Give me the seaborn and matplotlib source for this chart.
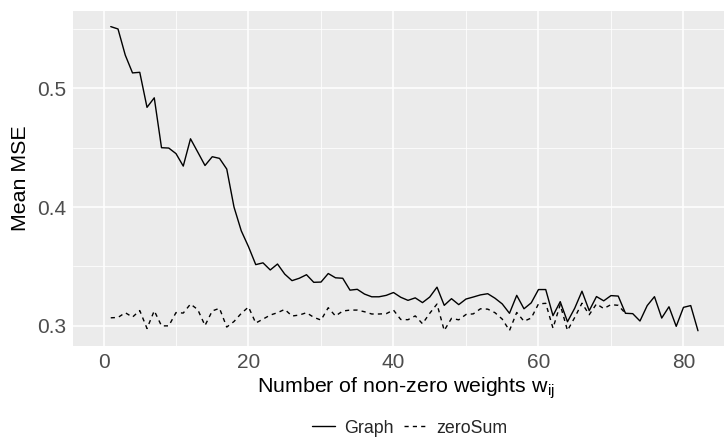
import pandas as pd
import numpy as np
import matplotlib
matplotlib.use('Agg')
import matplotlib.pyplot as plt
import seaborn as sns

# Configuration (look of ggplot theme_gray)
sns.set_theme(style="darkgrid", rc={
    'axes.facecolor': '#EBEBEB',
    'grid.color': 'white',
    'axes.edgecolor': '#EBEBEB',
})
plt.rcParams['font.family'] = ['Liberation Sans', 'DejaVu Sans']
plt.rcParams['mathtext.fontset'] = 'custom'
plt.rcParams['mathtext.rm'] = 'Liberation Sans'
plt.rcParams['mathtext.it'] = 'Liberation Sans'

# Data
n_weights = list(range(1, 83))

graph_mse = [
    0.552, 0.550, 0.528, 0.513, 0.5135, 0.484, 0.492, 0.450, 0.4497, 0.445,
    0.4345, 0.4575, 0.4463, 0.435, 0.4424, 0.441, 0.432, 0.400, 0.380, 0.3666,
    0.3515, 0.353, 0.347, 0.352, 0.3435, 0.338, 0.340, 0.343, 0.3366, 0.3368,
    0.344, 0.3404, 0.340, 0.330, 0.3307, 0.3267, 0.3244, 0.3244, 0.3256, 0.328,
    0.324, 0.3214, 0.3235, 0.3195, 0.3242, 0.3325, 0.3172, 0.3228, 0.3178, 0.3225,
    0.3242, 0.326, 0.327, 0.3232, 0.3184, 0.3105, 0.3256, 0.3143, 0.3193, 0.3305,
    0.3305, 0.3085, 0.3203, 0.3034, 0.3148, 0.3291, 0.3127, 0.3246, 0.321, 0.3254,
    0.325, 0.3105, 0.3102, 0.304, 0.317, 0.3245, 0.3065, 0.316, 0.2995, 0.3155,
    0.317, 0.2958,
]

zerosum_mse = [
    0.3067, 0.307, 0.311, 0.3073, 0.3128, 0.2977, 0.3126, 0.2999, 0.2999, 0.3111,
    0.3107, 0.3183, 0.3136, 0.3002, 0.3125, 0.3147, 0.2989, 0.3036, 0.3104, 0.3158,
    0.3023, 0.3056, 0.309, 0.311, 0.3138, 0.3082, 0.309, 0.311, 0.3071, 0.3048,
    0.3152, 0.3082, 0.3124, 0.3132, 0.3132, 0.3118, 0.3099, 0.3099, 0.3102, 0.3132,
    0.3053, 0.3051, 0.3083, 0.3017, 0.3105, 0.3183, 0.296, 0.3062, 0.305, 0.3095,
    0.31, 0.3143, 0.314, 0.311, 0.3056, 0.296, 0.3112, 0.3038, 0.3065, 0.3184,
    0.3189, 0.298, 0.3178, 0.296, 0.307, 0.319, 0.3093, 0.3184, 0.3145, 0.3178,
    0.3172, 0.3104,
]

df = pd.concat([
    pd.DataFrame({'weights': n_weights, 'mse': graph_mse, 'method': 'Graph'}),
    pd.DataFrame({'weights': n_weights[:len(zerosum_mse)], 'mse': zerosum_mse,
                  'method': 'zeroSum'}),
])

fig = plt.figure(figsize=(7.24, 4.44), dpi=100)
ax = fig.add_axes([72.7 / 724, 98.3 / 444, 666.3 / 724, 335 / 444])

sns.lineplot(data=df, x='weights', y='mse', style='method', color='black',
             dashes={'Graph': '', 'zeroSum': (3, 3)}, linewidth=1.0, ax=ax)

ax.set_xlim(-4.25, 87.66)
ax.set_ylim(0.2832, 0.5654)
ax.set_xticks([0, 20, 40, 60, 80])
ax.set_xticks([10, 30, 50, 70], minor=True)
ax.set_yticks([0.3, 0.4, 0.5])
ax.set_yticks([0.35, 0.45, 0.55], minor=True)
ax.set_yticklabels(['0.3', '0.4', '0.5'])
ax.grid(which='major', color='white', linewidth=1.1)
ax.grid(which='minor', color='white', linewidth=0.55)
ax.tick_params(which='major', length=3.5, width=0.8, color='#333333',
               labelsize=15, labelcolor='#4D4D4D', pad=1.5)
ax.tick_params(which='minor', length=0)
for s in ax.spines.values():
    s.set_visible(False)

ax.set_xlabel(r'Number of non-zero weights $\mathregular{w_{ij}}$', fontsize=15.4,
              color='black', labelpad=3)
ax.set_ylabel('Mean MSE', fontsize=15.4, color='black', labelpad=5)

sns.move_legend(ax, 'center', bbox_to_anchor=(0.506, -0.246), ncol=2,
                title=None, frameon=False, fontsize=12.8, handlelength=1.3,
                handletextpad=0.5, columnspacing=0.6)

fig.savefig('out.png', dpi=100)
